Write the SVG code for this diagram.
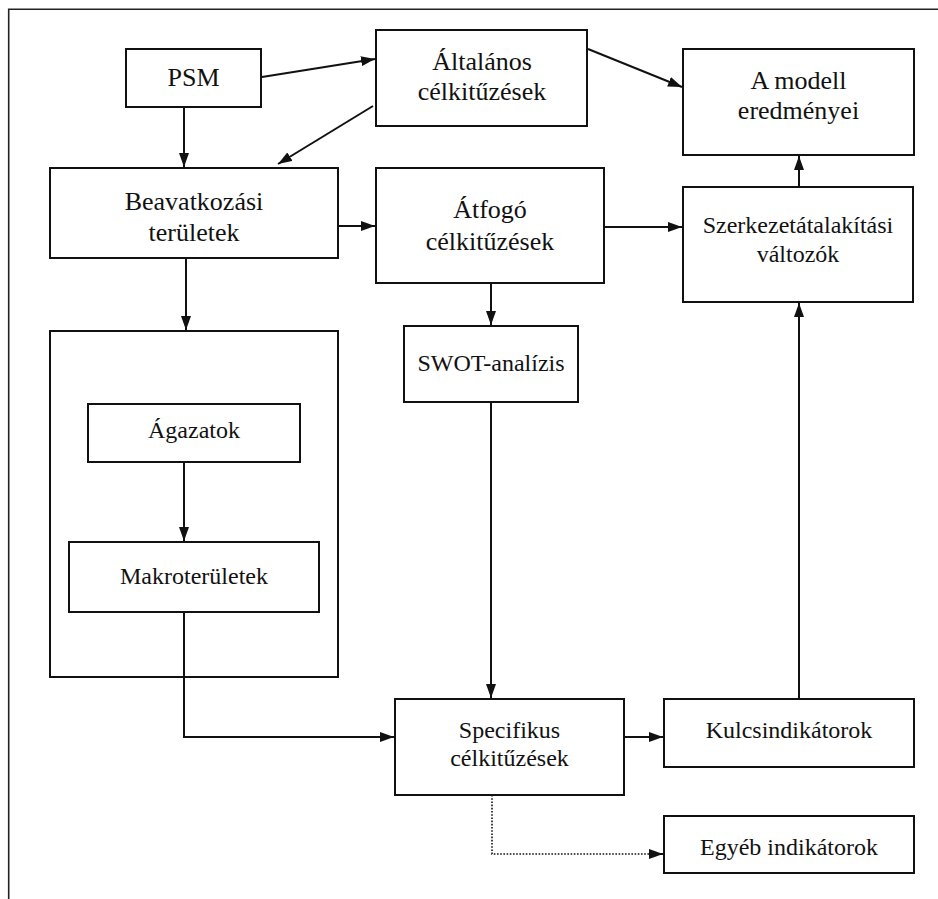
<svg xmlns="http://www.w3.org/2000/svg" width="938" height="899" viewBox="0 0 938 899">
<style>
  .box { fill: #fff; stroke: #111; stroke-width: 2; }
  .t26 { font-size: 26px; fill: #111; text-anchor: middle; }
  .t24 { font-size: 24px; fill: #111; text-anchor: middle; }
  .conn { fill: none; stroke: #111; stroke-width: 2; }
  .dot { fill: none; stroke: #111; stroke-width: 1.6; stroke-dasharray: 1.6 1.6; }
  .frame { fill: none; stroke: #222; stroke-width: 1.6; }
  text { font-family: 'Liberation Serif', Tinos, 'Times New Roman', Times, 'DejaVu Serif', serif; }
</style>
<defs>
  <marker id="arr" markerUnits="userSpaceOnUse" markerWidth="14" markerHeight="10" refX="14" refY="5" orient="auto">
    <path d="M0,0 L14,5 L0,10 z" fill="#111"/>
  </marker>
</defs>
<rect width="938" height="899" fill="#fff"/>
<g id="frame">
  <path class="frame" d="M8.7,899 L8.7,9.3 L938,9.3"/>
</g>
<g id="n-container"><rect class="box" x="50" y="331" width="288" height="346"/></g>
<g id="connectors">
  <line class="conn" x1="262" y1="77" x2="375" y2="59" marker-end="url(#arr)"/>
  <line class="conn" x1="373" y1="106" x2="278" y2="164" marker-end="url(#arr)"/>
  <line class="conn" x1="184" y1="107" x2="184" y2="167" marker-end="url(#arr)"/>
  <line class="conn" x1="338" y1="226" x2="375" y2="226" marker-end="url(#arr)"/>
  <line class="conn" x1="588" y1="49" x2="682" y2="87" marker-end="url(#arr)"/>
  <line class="conn" x1="799" y1="187" x2="799" y2="156" marker-end="url(#arr)"/>
  <line class="conn" x1="604" y1="227" x2="682" y2="227" marker-end="url(#arr)"/>
  <line class="conn" x1="491" y1="283" x2="491" y2="325" marker-end="url(#arr)"/>
  <line class="conn" x1="186" y1="258" x2="186" y2="330" marker-end="url(#arr)"/>
  <line class="conn" x1="184" y1="462" x2="184" y2="541" marker-end="url(#arr)"/>
  <path class="conn" d="M184,612 L184,737 L394,737" marker-end="url(#arr)"/>
  <line class="conn" x1="491" y1="402" x2="491" y2="698" marker-end="url(#arr)"/>
  <line class="conn" x1="624" y1="737" x2="663" y2="737" marker-end="url(#arr)"/>
  <line class="conn" x1="799" y1="699" x2="799" y2="303" marker-end="url(#arr)"/>
  <path class="dot" d="M492,795 L492,854 L652,854"/>
  <line class="conn" x1="650" y1="854" x2="663" y2="854" stroke-width="1" marker-end="url(#arr)"/>
</g>
<g id="n-psm">
  <rect class="box" x="126" y="49" width="135" height="58"/>
  <text class="t26" x="193.5" y="86">PSM</text>
</g>
<g id="n-altalanos">
  <rect class="box" x="376" y="30" width="211" height="96"/>
  <text class="t26" x="482" y="70">Általános</text>
  <text class="t26" x="482" y="100">célkitűzések</text>
</g>
<g id="n-modell">
  <rect class="box" x="683" y="49" width="231" height="106"/>
  <text class="t26" x="798.5" y="89">A modell</text>
  <text class="t26" x="798.5" y="119">eredményei</text>
</g>
<g id="n-beavatkozasi">
  <rect class="box" x="50" y="168" width="288" height="90"/>
  <text class="t26" x="194" y="210">Beavatkozási</text>
  <text class="t26" x="194" y="241">területek</text>
</g>
<g id="n-atfogo">
  <rect class="box" x="376" y="168" width="228" height="115"/>
  <text class="t26" x="490" y="218">Átfogó</text>
  <text class="t26" x="490" y="250">célkitűzések</text>
</g>
<g id="n-szerkezet">
  <rect class="box" x="683" y="187" width="230" height="115"/>
  <text class="t24" x="798" y="233">Szerkezetátalakítási</text>
  <text class="t24" x="798" y="262">változók</text>
</g>
<g id="n-swot">
  <rect class="box" x="404" y="326" width="174" height="76"/>
  <text class="t24" x="491" y="371">SWOT-analízis</text>
</g>
<g id="n-agazatok">
  <rect class="box" x="88" y="404" width="212" height="58"/>
  <text class="t24" x="194" y="438">Ágazatok</text>
</g>
<g id="n-makro">
  <rect class="box" x="69" y="542" width="250" height="70"/>
  <text class="t24" x="194" y="584">Makroterületek</text>
</g>
<g id="n-specifikus">
  <rect class="box" x="395" y="699" width="229" height="96"/>
  <text class="t24" x="509.5" y="738">Specifikus</text>
  <text class="t24" x="509.5" y="766">célkitűzések</text>
</g>
<g id="n-kulcs">
  <rect class="box" x="664" y="699" width="250" height="68"/>
  <text class="t24" x="789" y="738">Kulcsindikátorok</text>
</g>
<g id="n-egyeb">
  <rect class="box" x="664" y="816" width="250" height="57"/>
  <text class="t24" x="789" y="855">Egyéb indikátorok</text>
</g>
</svg>
